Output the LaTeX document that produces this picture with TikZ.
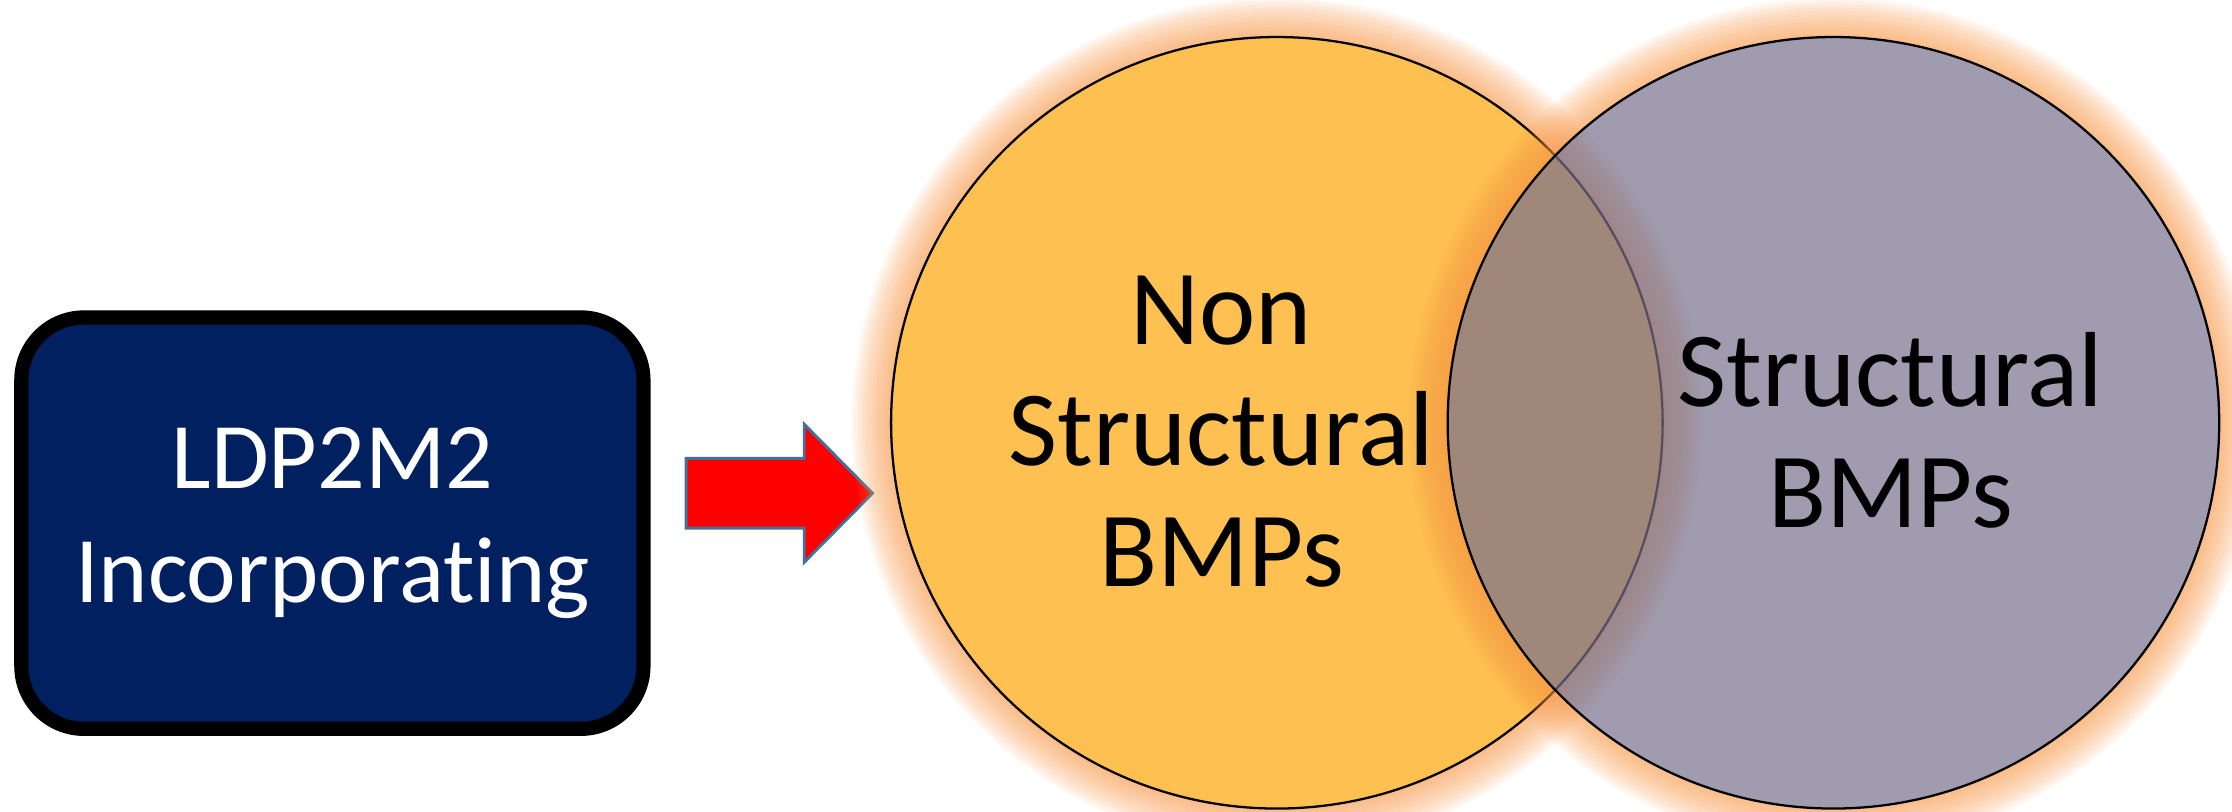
\documentclass[tikz,border=0pt]{standalone}
\usepackage{fontspec}
\setmainfont{Carlito}[Ligatures=NoCommon]
\usetikzlibrary{positioning}
\definecolor{boxblue}{RGB}{0,32,96}
\definecolor{nsyellow}{RGB}{254,192,80}
\definecolor{stgray}{RGB}{119,112,139}
\definecolor{glowor}{RGB}{247,150,70}
\definecolor{arrowedge}{RGB}{65,113,156}

\begin{document}
\begin{tikzpicture}[x=0.5pt,y=-0.5pt,
	bigbox/.style={draw=black,line width=5pt,fill=boxblue,rounded corners=22pt,
		minimum width=218.5pt,minimum height=144.5pt,inner sep=0pt,
		text=white,align=center,font=\fontsize{33}{40}\selectfont},
	venn/.style={circle,draw=black,line width=0.8pt,minimum size=271pt,inner sep=0pt},
	venntext/.style={align=center,inner sep=0pt,font=\fontsize{37.5}{42.5}\selectfont},
	redarrow/.style={fill=red,draw=arrowedge,line width=1pt,line join=miter}]
	\useasboundingbox (0,0) rectangle (1568,570);

	\coordinate (nsc) at (897,297);
	\coordinate (stc) at (1288,297);
	\node[bigbox] (ldp) at (233.5,367.5) {LDP2M2\\Incorporating};

	% block arrow
	\draw[redarrow] (482,322) -- (565,322) -- (565,298) -- (613,346.5)
		-- (565,395) -- (565,371) -- (482,371) -- cycle;

	% glow of the left circle
	\foreach \g in {1,...,12}
		\fill[glowor,opacity=0.08,even odd rule] (nsc) circle[radius=135.5pt+\g*1.15pt] circle[radius=135.5pt];
	\node[venn,fill=nsyellow] (ns) at (nsc) {};

	% glow of the right circle
	\foreach \g in {1,...,12}
		\fill[glowor,opacity=0.08,even odd rule] (stc) circle[radius=135.5pt+\g*1.15pt] circle[radius=135.5pt];
	\node[venn,fill=stgray,fill opacity=0.7] (st) at (stc) {};

	\node[venntext] (nstext) at ([shift={(-39,6.5)}]ns.center) {Non\\Structural\\BMPs};
	\node[venntext] (sttext) at ([shift={(40,5.5)}]st.center) {Structural\\BMPs};
\end{tikzpicture}
\end{document}
